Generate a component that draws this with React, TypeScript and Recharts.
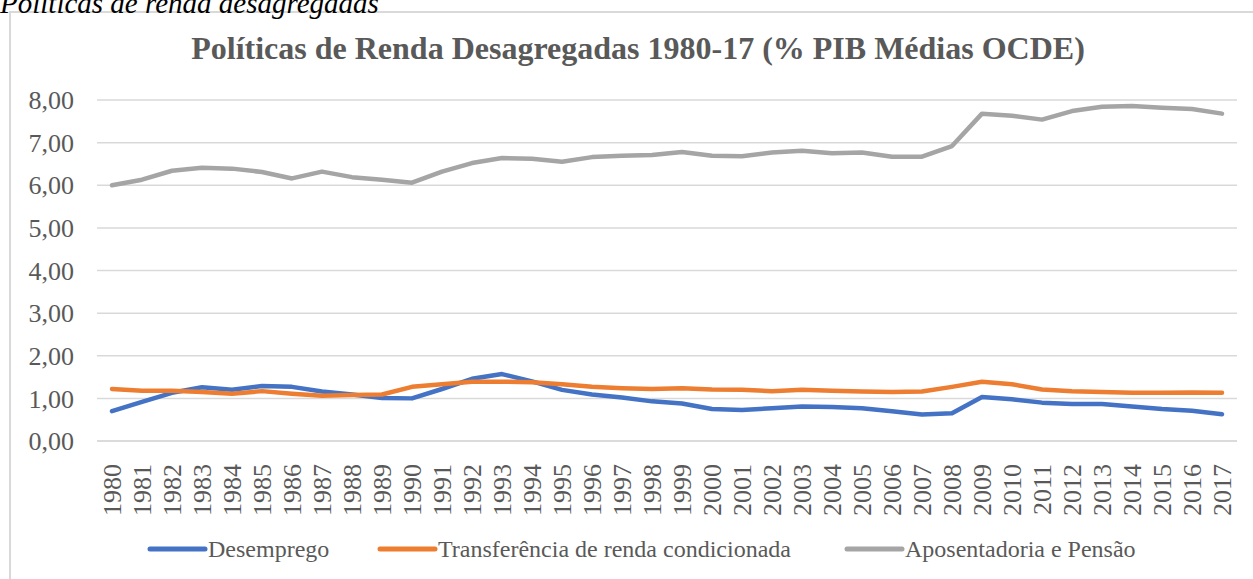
import React from 'react';
import { LineChart, Line, XAxis, YAxis, CartesianGrid } from 'recharts';

const years = ['1980','1981','1982','1983','1984','1985','1986','1987','1988','1989','1990','1991','1992','1993','1994','1995','1996','1997','1998','1999','2000','2001','2002','2003','2004','2005','2006','2007','2008','2009','2010','2011','2012','2013','2014','2015','2016','2017'];

const desemprego = [0.70,0.92,1.13,1.26,1.20,1.29,1.27,1.16,1.09,1.01,1.00,1.22,1.46,1.57,1.40,1.20,1.09,1.02,0.93,0.88,0.75,0.73,0.77,0.81,0.80,0.77,0.70,0.62,0.65,1.03,0.98,0.90,0.87,0.87,0.81,0.75,0.71,0.63];
const transferencia = [1.22,1.18,1.18,1.15,1.11,1.17,1.11,1.06,1.08,1.09,1.27,1.33,1.39,1.39,1.38,1.33,1.27,1.24,1.22,1.24,1.21,1.20,1.17,1.20,1.18,1.16,1.15,1.16,1.27,1.39,1.33,1.21,1.17,1.15,1.13,1.13,1.14,1.13];
const aposentadoria = [6.00,6.13,6.34,6.41,6.39,6.31,6.16,6.32,6.19,6.13,6.06,6.32,6.52,6.64,6.62,6.55,6.66,6.69,6.71,6.78,6.69,6.68,6.77,6.81,6.75,6.77,6.67,6.67,6.92,7.68,7.63,7.54,7.74,7.84,7.86,7.82,7.79,7.68];

const yTicks = [0, 1, 2, 3, 4, 5, 6, 7, 8];

const seriesNames = ['Desemprego', 'Transferência de renda condicionada', 'Aposentadoria e Pensão'];
const seriesKeys = ['des', 'tra', 'apo'];
const seriesColors = ['#4472C4', '#ED7D31', '#A5A5A5'];

const title = 'Políticas de Renda Desagregadas 1980-17 (% PIB Médias OCDE)';
const caption = 'Políticas de renda desagregadas';

const data = years.map((y, i) => ({
  year: y,
  des: desemprego[i],
  tra: transferencia[i],
  apo: aposentadoria[i],
}));

const FONT = '"Liberation Serif", "Times New Roman", serif';
const TEXT = '#595959';

const XTick = (props: any) => {
  const { x, y, payload } = props;
  return (
    <text
      x={x}
      y={y + 15}
      transform={`rotate(-90, ${x}, ${y + 15})`}
      textAnchor="end"
      dy="0.34em"
      fill={TEXT}
      fontSize={26}
      fontFamily={FONT}
    >
      {payload.value}
    </text>
  );
};

const legendX = [150, 380, 847];

export default function App() {
  return (
    <div style={{ position: 'absolute', left: 0, top: 0, width: 1253, height: 579, overflow: 'hidden', background: '#fff' }}>
      <div style={{ position: 'absolute', left: 9, top: 11, width: 1300, height: 700, border: '2px solid #d9d9d9', boxSizing: 'border-box' }} />
      <svg width={1253} height={80} style={{ position: 'absolute', left: 0, top: 0 }}>
        <text x={0} y={13} fontFamily={FONT} fontStyle="italic" fontSize={29} fill="#000">{caption}</text>
        <text x={638} y={59} textAnchor="middle" fontFamily={FONT} fontWeight="bold" fontSize={32} fill={TEXT}>{title}</text>
      </svg>
      <div style={{ position: 'absolute', left: 0, top: 0 }}>
        <LineChart width={1253} height={579} data={data} margin={{ top: 100, right: 16, left: 0, bottom: 68 }}>
          <CartesianGrid vertical={false} stroke="#d9d9d9" strokeWidth={1.5} />
          <XAxis
            dataKey="year"
            interval={0}
            tick={<XTick />}
            tickLine={false}
            padding={{ left: 15, right: 15 }}
            axisLine={{ stroke: '#d9d9d9', strokeWidth: 1.5 }}
            height={70}
          />
          <YAxis
            domain={[0, 8]}
            ticks={yTicks}
            width={97}
            tickSize={0}
            tickMargin={23}
            axisLine={false}
            tickLine={false}
            tickFormatter={(v: number) => v.toFixed(2).replace('.', ',')}
            tick={{ fill: TEXT, fontSize: 26, fontFamily: FONT }}
          />
          {seriesKeys.map((k, i) => (
            <Line
              key={k}
              type="linear"
              dataKey={k}
              name={seriesNames[i]}
              stroke={seriesColors[i]}
              strokeWidth={4.5}
              strokeLinecap="round"
              strokeLinejoin="round"
              dot={false}
              activeDot={false}
              isAnimationActive={false}
            />
          ))}
        </LineChart>
      </div>
      <svg width={1253} height={44} style={{ position: 'absolute', left: 0, top: 530 }}>
        {seriesNames.map((n, i) => (
          <g key={n}>
            <line x1={legendX[i]} x2={legendX[i] + 55} y1={19} y2={19} stroke={seriesColors[i]} strokeWidth={5} strokeLinecap="round" />
            <text x={legendX[i] + 58} y={27} fontFamily={FONT} fontSize={24} fill={TEXT}>{n}</text>
          </g>
        ))}
      </svg>
    </div>
  );
}
